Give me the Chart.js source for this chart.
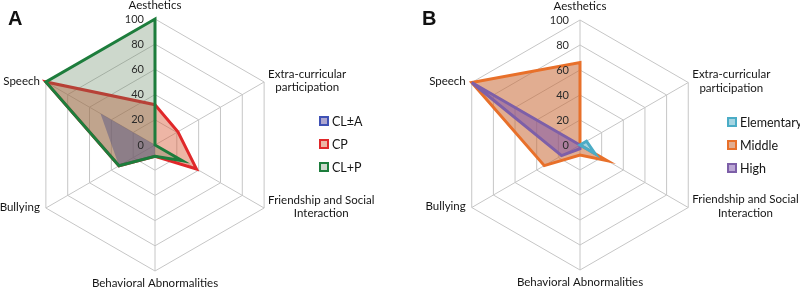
<!DOCTYPE html>
<html>
<head>
<meta charset="utf-8">
<script src="https://cdn.jsdelivr.net/npm/chart.js@4"></script>
<style>
  body { margin: 0; background: #fff; }
  .panel { position: absolute; top: 0; width: 400px; height: 287px; }
</style>
</head>
<body>
<div class="panel" style="left:0"><canvas id="chartA" width="400" height="287"></canvas></div>
<div class="panel" style="left:400px"><canvas id="chartB" width="400" height="287"></canvas></div>
<script>
// axes, clockwise from the top
const axisLabels = ['Aesthetics', ['Extra-curricular', 'participation'], ['Friendship and Social', 'Interaction'],
  'Behavioral Abnormalities', 'Bullying', 'Speech'];
const tickValues = [0, 20, 40, 60, 80, 100];

// panel A
const seriesA = ['CL±A', 'CP', 'CL+P'];
const clAValues = [0, 0, 0, 9, 33, 50];
const cpValues = [32, 21, 38, 9, 33, 100];
const clPValues = [100, 0, 25, 9, 33, 100];

// panel B
const seriesB = ['Elementary', 'Middle', 'High'];
const elementaryValues = [0, 6, 14, 0, 0, 0];
const middleValues = [66, 0, 25, 8, 33, 100];
const highValues = [0, 0, 0, 3, 17, 100];

// 라벨, 눈금, 범례는 직접 그림
const overlay = {
  id: 'overlay',
  afterDraw(chart, args, opts) {
    const ctx = chart.ctx;
    const r = chart.scales.r;
    ctx.save();

    // tick labels, left of the vertical axis
    ctx.font = '11px Lato';
    ctx.fillStyle = '#2a2a2a';
    ctx.textAlign = 'right';
    ctx.textBaseline = 'middle';
    tickValues.forEach(v => {
      ctx.fillText(String(v), r.xCenter - 11, r.yCenter - r.getDistanceFromCenterForValue(v));
    });

    // axis labels
    ctx.font = '11.5px Lato';
    ctx.fillStyle = '#151515';
    ctx.textAlign = 'center';
    const lh = 13.5;
    chart.data.labels.forEach((lab, i) => {
      const p = r.getPointPositionForValue(i, r.max);
      const lines = Array.isArray(lab) ? lab : [lab];
      const w = Math.max(...lines.map(l => ctx.measureText(l).width));
      const dx = p.x - r.xCenter;
      let x = p.x, y = p.y - 1;
      if (Math.abs(dx) < 1) {
        y = p.y < r.yCenter ? p.y - 14 : p.y + 12;
      } else if (dx > 0) {
        x = p.x + 4 + w / 2;
      } else {
        x = p.x - 6 - w / 2;
      }
      const top = y - (lines.length - 1) * lh / 2;
      lines.forEach((l, k) => ctx.fillText(l, x, top + k * lh));
    });

    // panel letter
    ctx.font = 'bold 20px "Liberation Sans"';
    ctx.fillStyle = '#111';
    ctx.textAlign = 'left';
    ctx.fillText(opts.letter, opts.letterX, 19);

    // legend
    ctx.font = '12.5px Lato';
    opts.legendOrder.forEach((di, k) => {
      const ds = chart.data.datasets[di];
      const y = opts.legendY + k * 23;
      ctx.fillStyle = '#fff';
      ctx.fillRect(opts.legendX, y - 5, 10, 10);
      ctx.fillStyle = ds.backgroundColor;
      ctx.fillRect(opts.legendX, y - 5, 10, 10);
      ctx.strokeStyle = ds.borderColor;
      ctx.lineWidth = 2;
      ctx.strokeRect(opts.legendX + 1, y - 4, 8, 8);
      ctx.fillStyle = '#151515';
      ctx.fillText(ds.label, opts.legendX + 13, y + 1);
    });
    ctx.restore();
  }
};

function radarOptions(padding, letter, letterX, legendX, legendY) {
  return {
    responsive: false,
    animation: false,
    layout: { padding: padding },
    elements: { line: { borderWidth: 3, tension: 0 }, point: { radius: 0 } },
    scales: {
      r: {
        min: 0,
        max: 100,
        ticks: { stepSize: 20, display: false },
        grid: { color: '#c6c6c6', lineWidth: 1 },
        angleLines: { color: '#c6c6c6', lineWidth: 1 },
        pointLabels: { display: false }
      }
    },
    plugins: {
      legend: { display: false },
      tooltip: { enabled: false },
      overlay: { letter: letter, letterX: letterX, legendX: legendX, legendY: legendY, legendOrder: [0, 1, 2] }
    }
  };
}

new Chart(document.getElementById('chartA').getContext('2d'), {
  type: 'radar',
  data: {
    labels: axisLabels,
    datasets: [
      { label: seriesA[0], data: clAValues, borderColor: '#4052b5', borderWidth: 0, backgroundColor: 'rgba(75,60,150,0.45)', fill: true, order: 1 },
      { label: seriesA[1], data: cpValues, borderColor: '#e0282a', backgroundColor: 'rgba(215,90,55,0.45)', fill: true, order: 2 },
      { label: seriesA[2], data: clPValues, borderColor: '#1d7d3c', backgroundColor: 'rgba(90,125,85,0.3)', fill: true, order: 0 }
    ]
  },
  options: radarOptions({ left: 29, right: 119, top: 19, bottom: 16 }, 'A', 8, 319, 121),
  plugins: [overlay]
});

new Chart(document.getElementById('chartB').getContext('2d'), {
  type: 'radar',
  data: {
    labels: axisLabels,
    datasets: [
      { label: seriesB[0], data: elementaryValues, borderColor: '#4bacc6', backgroundColor: 'rgba(75,172,198,0.5)', fill: true, order: 0 },
      { label: seriesB[1], data: middleValues, borderColor: '#e8702a', backgroundColor: 'rgba(200,105,55,0.55)', fill: true, order: 2 },
      { label: seriesB[2], data: highValues, borderColor: '#7d5fa8', backgroundColor: 'rgba(120,80,170,0.5)', fill: true, order: 1 }
    ]
  },
  options: radarOptions({ left: 55, right: 95, top: 20, bottom: 17 }, 'B', 22, 327, 122),
  plugins: [overlay]
});
</script>
</body>
</html>
